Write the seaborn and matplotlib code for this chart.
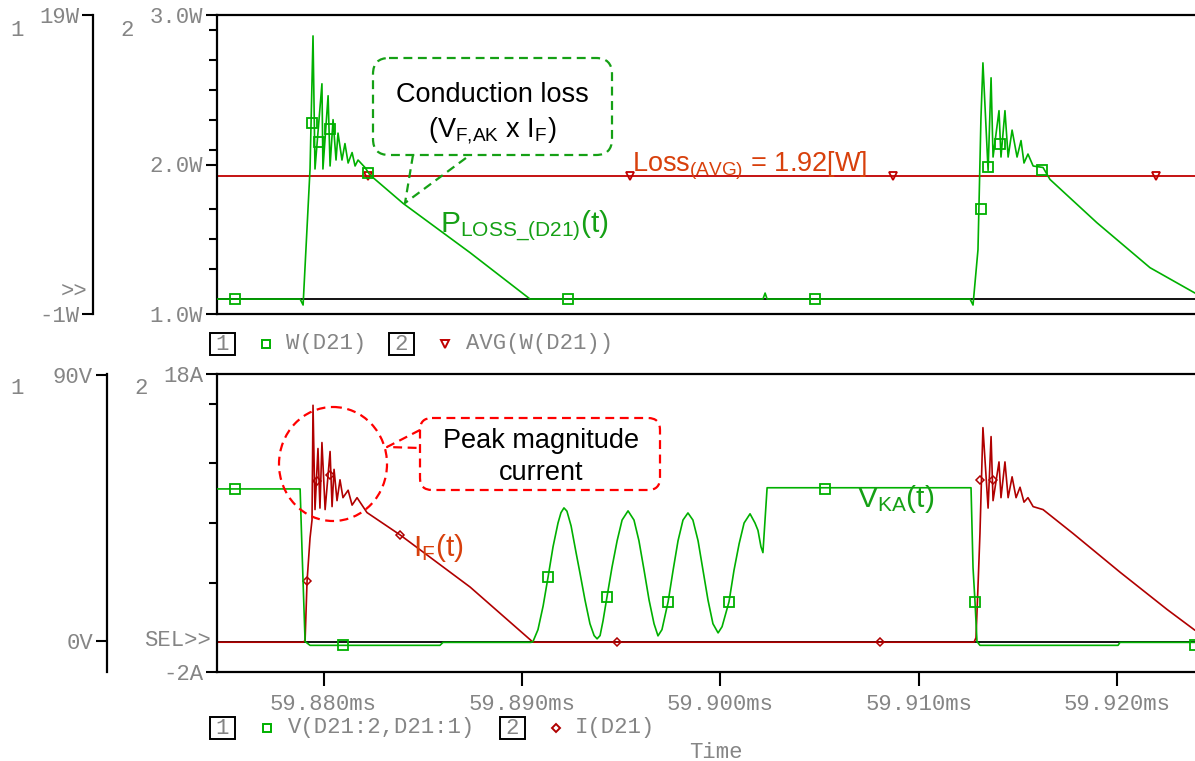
import matplotlib
matplotlib.use("Agg")
import matplotlib.pyplot as plt
import seaborn as sns
from matplotlib.transforms import Affine2D
from matplotlib.patches import FancyBboxPatch, Ellipse, Rectangle
from matplotlib.lines import Line2D
from matplotlib.ticker import FixedLocator

# ---- data (time in microseconds) ----
# top panel, trace 1: W(D21) [W]
w_t = [59874.63, 59878.82, 59878.97, 59879.32, 59879.47, 59879.57, 59879.92, 59879.97,
       59880.23, 59880.33, 59880.48, 59880.63, 59880.73, 59880.93, 59881.08, 59881.24,
       59881.44, 59881.59, 59881.74, 59882.09, 59882.34, 59884.01, 59887.39, 59890.41,
       59902.15, 59902.26, 59902.36, 59912.59, 59912.74, 59912.99, 59913.14, 59913.24,
       59913.50, 59913.65, 59913.75, 59914.05, 59914.15, 59914.35, 59914.51, 59914.71,
       59914.96, 59915.16, 59915.31, 59915.51, 59915.77, 59916.27, 59916.62, 59918.99,
       59921.66, 59923.93]
w_val = [0.0, 0.0, -0.4, 8.7, 17.6, 8.7, 14.4, 8.7,
         13.6, 8.9, 12.0, 9.3, 11.1, 9.3, 10.4, 9.1,
         9.8, 8.9, 9.3, 8.8, 8.3, 6.4, 3.1, 0.0,
         0.0, 0.4, 0.0, 0.0, -0.4, 3.3, 12.1, 15.8,
         8.6, 14.8, 9.5, 12.6, 9.5, 12.6, 9.5, 11.3,
         9.5, 10.6, 9.1, 9.7, 8.9, 8.8, 8.0, 5.1,
         2.1, 0.4]
w_mark_t = [59875.54, 59879.42, 59879.77, 59880.33, 59882.24, 59892.32, 59904.78,
            59913.14, 59913.50, 59914.10, 59916.22]
w_mark = [0.0, 11.8, 10.5, 11.4, 8.4, 0.0, 0.0, 6.0, 8.8, 10.4, 8.6]

# top panel, trace 2: AVG(W(D21)) [W]
avg_t = [59874.63, 59923.93]
avg_val = [1.92, 1.92]
avg_mark_t = [59882.24, 59895.45, 59908.71, 59921.97]
avg_mark = [1.92, 1.92, 1.92, 1.92]

# bottom panel, trace 1: V(D21:2,D21:1) [V]
v_t = [59874.63, 59878.82, 59878.92, 59879.07, 59879.32, 59885.87, 59886.02, 59890.46,
       59890.56, 59890.81, 59891.07, 59891.32, 59891.57, 59891.82, 59891.97, 59892.12,
       59892.27, 59892.48, 59892.73, 59892.93, 59893.18, 59893.43, 59893.64, 59893.79,
       59893.94, 59894.09, 59894.29, 59894.54, 59894.80, 59895.05, 59895.35, 59895.65,
       59895.90, 59896.16, 59896.41, 59896.66, 59896.86, 59897.06, 59897.37, 59897.62,
       59897.87, 59898.12, 59898.37, 59898.62, 59898.88, 59899.13, 59899.38, 59899.63,
       59899.89, 59900.09, 59900.44, 59900.69, 59900.95, 59901.20, 59901.50, 59901.75,
       59901.90, 59902.05, 59902.15, 59902.36, 59912.64, 59912.74, 59912.84, 59912.94,
       59913.09, 59920.05, 59920.15, 59923.93]
v_val = [51.5, 51.5, 30.0, 0.0, -1.3, -1.3, -0.3, -0.3,
         0.0, 4.0, 12.0, 21.8, 32.0, 40.0, 43.5, 45.1,
         44.0, 39.0, 30.0, 23.0, 14.0, 6.0, 2.0, 0.9,
         2.0, 7.0, 15.1, 25.0, 34.0, 41.0, 44.1, 41.0,
         34.0, 24.0, 14.0, 6.0, 1.9, 4.0, 13.4, 24.0,
         34.0, 41.0, 43.4, 41.0, 34.0, 24.0, 14.0, 6.0,
         2.9, 5.0, 13.4, 24.0, 33.0, 40.0, 43.1, 40.0,
         37.5, 32.0, 30.0, 51.9, 51.9, 25.0, 13.4, 0.0,
         -1.3, -1.3, -0.3, -0.3]
v_mark_t = [59875.54, 59880.98, 59891.32, 59894.29, 59897.37, 59900.44, 59905.28,
            59912.84, 59923.93]
v_mark = [51.5, -1.3, 21.8, 15.1, 13.4, 13.4, 51.5, 13.4, -1.3]

# bottom panel, trace 2: I(D21) [A]
i_t = [59874.63, 59878.97, 59879.07, 59879.17, 59879.32, 59879.42, 59879.47, 59879.57,
       59879.72, 59879.82, 59879.92, 59880.08, 59880.33, 59880.43, 59880.53, 59880.68,
       59880.83, 59880.98, 59881.24, 59881.44, 59881.69, 59882.19, 59883.86, 59887.39,
       59890.56, 59912.79, 59912.89, 59912.99, 59913.09, 59913.24, 59913.50, 59913.65,
       59913.75, 59914.05, 59914.15, 59914.35, 59914.51, 59914.71, 59914.91, 59915.11,
       59915.31, 59915.51, 59915.77, 59916.27, 59917.78, 59920.15, 59922.52, 59923.93]
i_val = [0.0, 0.0, 0.1, 4.1, 7.0, 8.2, 15.9, 8.9,
         13.0, 9.0, 13.4, 8.9, 12.8, 9.1, 11.6, 9.5,
         10.9, 9.7, 10.2, 9.2, 9.7, 8.7, 7.2, 3.7,
         0.0, 0.0, 0.3, 3.7, 7.3, 14.4, 9.0, 13.8,
         9.5, 12.1, 9.7, 12.1, 9.7, 11.1, 9.7, 10.4,
         9.4, 9.7, 9.1, 8.9, 7.3, 4.7, 2.2, 0.8]
i_mark_t = [59879.17, 59879.67, 59880.33, 59883.86, 59894.80, 59908.05, 59913.09, 59913.75]
i_mark = [4.1, 10.8, 11.2, 7.2, 0.0, 0.0, 10.9, 10.9]

time_ticks = [59880, 59890, 59900, 59910, 59920]
time_labels = ["59.880ms", "59.890ms", "59.900ms", "59.910ms", "59.920ms"]
t_range = (59874.63, 59923.93)

# ---- style ----
GREEN = "#00b000"
GREEN_TXT = "#15a015"
DRED = "#b00000"
AVG_RED = "#c00000"
ORANGE = "#d8400c"
BRED = "#ff0000"
GREY = "#858585"

sns.set_theme(style="ticks")
plt.rcParams["font.family"] = ["Liberation Mono", "DejaVu Sans"]
plt.rcParams["mathtext.fontset"] = "custom"
plt.rcParams["mathtext.rm"] = "Liberation Sans"
plt.rcParams["mathtext.it"] = "Liberation Sans:italic"
plt.rcParams["mathtext.bf"] = "Liberation Sans:bold"

W_PX, H_PX = 1195, 761
fig = plt.figure(figsize=(W_PX / 100, H_PX / 100), dpi=100)
pix = Affine2D().scale(1, -1).translate(0, H_PX)  # image pixel coords, y down

ax_top = fig.add_axes([217 / W_PX, 1 - 314 / H_PX, 978 / W_PX, 299 / H_PX])
ax_bot = fig.add_axes([217 / W_PX, 1 - 672 / H_PX, 978 / W_PX, 298 / H_PX])
ax_top1 = ax_top.twinx()
ax_bot1 = ax_bot.twinx()


def style_main(ax):
    for side in ["top", "left", "bottom"]:
        ax.spines[side].set_linewidth(1.6)
        ax.spines[side].set_color("black")
    ax.spines["right"].set_visible(False)
    ax.tick_params(axis="y", which="major", left=True, right=False, length=8, width=1.5,
                   direction="out", color="black", labelsize=16, labelcolor=GREY, pad=2)
    ax.tick_params(axis="y", which="minor", left=True, right=False, length=6, width=1.5,
                   direction="out", color="black")


def style_side(ax, pos):
    for side in ["top", "right", "bottom"]:
        ax.spines[side].set_visible(False)
    ax.spines["left"].set_visible(True)
    ax.spines["left"].set_position(("axes", pos))
    ax.spines["left"].set_linewidth(1.6)
    ax.spines["left"].set_color("black")
    ax.yaxis.tick_left()
    ax.tick_params(axis="y", which="major", left=True, right=False, length=8, width=1.5,
                   direction="out", color="black", labelsize=16, labelcolor=GREY, pad=2)


# ---- top panel ----
ax_top1.axhline(0, color="black", lw=1.3, zorder=1)
sns.lineplot(x=avg_t, y=avg_val, ax=ax_top, color=AVG_RED, linewidth=1.3,
             estimator=None, sort=False)
ax_top.plot(avg_mark_t, avg_mark, ls="none", marker="v", mfc="none", mec=AVG_RED,
            mew=1.3, ms=6)
sns.lineplot(x=w_t, y=w_val, ax=ax_top1, color=GREEN, linewidth=1.2,
             estimator=None, sort=False)
ax_top1.plot(w_mark_t, w_mark, ls="none", marker="s", mfc="none", mec=GREEN,
             mew=1.3, ms=6.5)

ax_top.set_xlim(*t_range)
ax_top.set_ylim(1.0, 3.0)
ax_top1.set_ylim(-1, 19)
ax_top.set_xticks([])
ax_top.set_yticks([1.0, 2.0, 3.0], ["1.0W", "2.0W", "3.0W"])
ax_top.yaxis.set_minor_locator(FixedLocator([1.3, 1.5, 1.7, 2.1, 2.3, 2.5, 2.7, 2.9]))
ax_top1.set_yticks([-1, 19], ["-1W", "19W"])
style_main(ax_top)
style_side(ax_top1, (93 - 217) / 978)
ax_top.set_xlabel("")
ax_top.set_ylabel("")
ax_top1.set_ylabel("")

# ---- bottom panel ----
ax_bot.axhline(0, color="black", lw=1.3, zorder=1)
sns.lineplot(x=i_t, y=i_val, ax=ax_bot, color=DRED, linewidth=1.2,
             estimator=None, sort=False)
ax_bot.plot(i_mark_t, i_mark, ls="none", marker="D", mfc="none", mec=DRED,
            mew=1.1, ms=4.5)
sns.lineplot(x=v_t, y=v_val, ax=ax_bot1, color=GREEN, linewidth=1.2,
             estimator=None, sort=False)
ax_bot1.plot(v_mark_t, v_mark, ls="none", marker="s", mfc="none", mec=GREEN,
             mew=1.3, ms=6.5)

ax_bot.set_xlim(*t_range)
ax_bot.set_ylim(-2, 18)
ax_bot1.set_ylim(-10.3, 90.3)
ax_bot.set_yticks([-2, 18], ["-2A", "18A"])
ax_bot.yaxis.set_minor_locator(FixedLocator([4, 8, 12, 16]))
ax_bot1.set_yticks([0, 90], ["0V", "90V"])
ax_bot.set_xticks(time_ticks, time_labels)
style_main(ax_bot)
style_side(ax_bot1, (107 - 217) / 978)
ax_bot.tick_params(axis="x", which="major", bottom=True, length=10, width=1.5,
                   direction="out", color="black", labelsize=16, labelcolor=GREY, pad=6)
ax_bot.set_xlabel("")
ax_bot.set_ylabel("")
ax_bot1.set_ylabel("")

# ---- PSpice-style axis numbers and markers ----
mono = dict(transform=pix, color=GREY, fontsize=16)
fig.text(17, 31, "1", ha="center", va="center", **mono)
fig.text(127, 31, "2", ha="center", va="center", **mono)
fig.text(74, 291, ">>", ha="center", va="center", **mono)
fig.text(17, 388, "1", ha="center", va="center", **mono)
fig.text(141, 388, "2", ha="center", va="center", **mono)
fig.text(211, 641, "SEL>>", ha="right", va="center", **mono)


def legend_row(y, items):
    for box_x, num, mk_x, marker, mcol, text_x, label in items:
        fig.add_artist(Rectangle((box_x, y - 11), 25, 22, transform=pix, fill=False,
                                 ec="black", lw=1.4))
        fig.text(box_x + 12.5, y, num, ha="center", va="center", **mono)
        fig.add_artist(Line2D([mk_x], [y], transform=pix, marker=marker, ls="none",
                              mfc="none", mec=mcol, mew=1.4, ms=6 if marker != "D" else 4.5))
        fig.text(text_x, y, label, ha="left", va="center", **mono)


legend_row(344, [(210, "1", 266, "s", GREEN, 286, "W(D21)"),
                 (389, "2", 445, "v", AVG_RED, 466, "AVG(W(D21))")])
legend_row(728, [(210, "1", 267, "s", GREEN, 288, "V(D21:2,D21:1)"),
                 (500, "2", 556, "D", DRED, 575, "I(D21)")])
fig.text(716, 752, "Time", ha="center", va="center", **mono)

# ---- annotations ----
sans = dict(transform=pix, family="Liberation Sans")
dash = (0, (4, 2.5))

fig.add_artist(FancyBboxPatch((373, 58), 239, 97, boxstyle="round,pad=0,rounding_size=16",
                              transform=pix, fill=False, ec=GREEN_TXT, lw=1.6, ls=dash))
fig.add_artist(Line2D([413, 405, 470], [155, 203, 155], transform=pix, color=GREEN_TXT,
                      lw=1.6, ls=dash))
fig.text(492, 102, "Conduction loss", ha="center", va="baseline", fontsize=19.5,
         color="black", **sans)
fig.text(492, 137, r"($\mathrm{V_{F{,}AK}}$ x $\mathrm{I_F}$)", ha="center", va="baseline",
         fontsize=19.5, color="black", **sans)
fig.text(632, 171, r"$\mathrm{Loss_{(AVG)}}$ = 1.92[W]", ha="left", va="baseline",
         fontsize=19.5, color=ORANGE, **sans)
fig.text(440, 233, r"$\mathrm{P_{LOSS\_(D21)}}$(t)", ha="left", va="baseline",
         fontsize=21.5, color=GREEN_TXT, **sans)

fig.add_artist(Ellipse((333, 464), 108, 114, transform=pix, fill=False, ec=BRED,
                       lw=1.6, ls=dash))
fig.add_artist(FancyBboxPatch((420, 418), 240, 72, boxstyle="round,pad=0,rounding_size=12",
                              transform=pix, fill=False, ec=BRED, lw=1.6, ls=dash))
fig.add_artist(Line2D([420, 387, 420], [430, 447, 448], transform=pix, color=BRED,
                      lw=1.6, ls=dash))
fig.text(541, 448, "Peak magnitude", ha="center", va="baseline", fontsize=19.5,
         color="black", **sans)
fig.text(541, 480, "current", ha="center", va="baseline", fontsize=19.5,
         color="black", **sans)
fig.text(413, 556, r"$\mathrm{I_F}$(t)", ha="left", va="baseline", fontsize=21.5,
         color=ORANGE, **sans)
fig.text(857, 507, r"$\mathrm{V_{KA}}$(t)", ha="left", va="baseline", fontsize=21.5,
         color=GREEN_TXT, **sans)

fig.savefig("out.png", dpi=100)
